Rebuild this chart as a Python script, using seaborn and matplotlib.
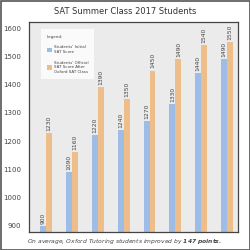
import matplotlib
matplotlib.use("Agg")
import matplotlib.pyplot as plt
import seaborn as sns
import pandas as pd

# data
students = ["S1", "S2", "S3", "S4", "S5", "S6", "S7", "S8"]
initial_scores = [900, 1090, 1220, 1240, 1270, 1330, 1440, 1490]
final_scores = [1230, 1160, 1390, 1350, 1450, 1490, 1540, 1550]
series_names = ["Students' Initial\nSAT Score",
                "Students' Official\nSAT Score After\nOxford SAT Class"]
y_ticks = [900, 1000, 1100, 1200, 1300, 1400, 1500, 1600]

BLUE = "#9dbde6"
ORANGE = "#edbd8a"
TEXT = "#444444"

df = pd.DataFrame({
    "student": students * 2,
    "score": initial_scores + final_scores,
    "series": [series_names[0]] * len(students) + [series_names[1]] * len(students),
})

sns.set_theme(style="white")
plt.rcParams["font.family"] = ["DejaVu Sans"]
plt.rcParams["mathtext.fontset"] = "custom"
plt.rcParams["mathtext.bf"] = "DejaVu Sans:italic:bold"

fig = plt.figure(figsize=(2.5, 2.5), dpi=100)
ax = fig.add_axes([0.116, 0.072, 0.836, 0.84])

sns.barplot(data=df, x="student", y="score", hue="series",
            palette=[BLUE, ORANGE], width=0.46, linewidth=0, saturation=1,
            ax=ax, legend=True)

for container in ax.containers:
    ax.bar_label(container, rotation=90, fontsize=4.3, color=TEXT, padding=1.5)

ax.set_facecolor("#ebebeb")
ax.set_ylim(878, 1622)
ax.set_xlim(-0.66, 7.42)
ax.set_yticks(y_ticks)
ax.set_yticklabels([str(t) for t in y_ticks], fontsize=5, color=TEXT)
ax.set_xticks([])
ax.set_xlabel("")
ax.set_ylabel("")
ax.tick_params(axis="y", direction="inout", length=9, width=0.8, color="#333333", pad=1)
for side in ax.spines.values():
    side.set_color("#444444")
    side.set_linewidth(0.9)

leg = ax.legend(title="Legend:", loc="upper left", bbox_to_anchor=(0.05, 0.975),
                fontsize=2.9, title_fontsize=3.0, frameon=True, fancybox=False,
                handlelength=1.3, handleheight=1.3, labelspacing=1.7,
                borderpad=1.3, handletextpad=0.5)
leg.get_frame().set_facecolor("white")
leg.get_frame().set_edgecolor("white")
leg.get_frame().set_linewidth(0)
leg._legend_box.align = "left"
for t in leg.get_texts():
    t.set_color(TEXT)
leg.get_title().set_color(TEXT)

fig.text(0.5, 0.956, "SAT Summer Class 2017 Students", ha="center", va="center",
         fontsize=6, color="#333333")
fig.text(0.5, 0.036, "On average, Oxford Tutoring students improved by $\\mathbf{147\\ points.}$",
         ha="center", va="center", fontsize=4.3, style="italic", color=TEXT)

# thin border round the whole picture
fig.patches.append(plt.Rectangle((0.002, 0.002), 0.996, 0.996, transform=fig.transFigure,
                                 fill=False, edgecolor="#555555", linewidth=1.2))

fig.savefig("out.png", dpi=100)
